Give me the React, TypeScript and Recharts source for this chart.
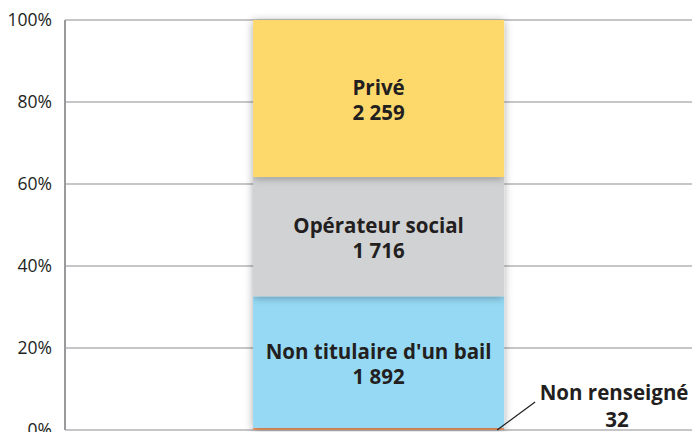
import React from 'react';
import { BarChart, Bar, XAxis, YAxis, CartesianGrid, LabelList } from 'recharts';

const categories = ['Logement'];
const seriesKeys = ['nr', 'ntb', 'os', 'prive'];
const seriesNames = ['Non renseigné', "Non titulaire d'un bail", 'Opérateur social', 'Privé'];
const seriesValues = [32, 1892, 1716, 2259];
const yTicks = [0, 0.2, 0.4, 0.6, 0.8, 1];

const COLORS = ['#F29D6B', '#95D9F4', '#D1D2D4', '#FDD96C'];
const TEXT = '#231F20';
const FONT = '"Open Sans", "Noto Sans", sans-serif';
const LABEL_SIZE = 20.5;

const data = categories.map((c) => {
  const row: Record<string, any> = { cat: c };
  seriesKeys.forEach((k, i) => {
    row[k] = seriesValues[i];
  });
  return row;
});

const fmt = (v: number) => String(v).replace(/\B(?=(\d{3})+(?!\d))/g, '\u00a0');

const makeInside = (name: string, value: number) => (props: any) => {
  const { x, y, width, height } = props;
  const cx = x + width / 2;
  const cy = y + height / 2;
  return (
    <g>
      <text x={cx} y={cy - 3.5} textAnchor="middle" fill={TEXT} fontFamily={FONT} fontWeight={700} fontSize={LABEL_SIZE}>
        {name}
      </text>
      <text x={cx} y={cy + 21.5} textAnchor="middle" fill={TEXT} fontFamily={FONT} fontWeight={700} fontSize={LABEL_SIZE}>
        {fmt(value)}
      </text>
    </g>
  );
};

const makeOutside = (name: string, value: number) => (props: any) => {
  const { x, y, width, height } = props;
  const bx = x + width - 7;
  const by = y + height;
  return (
    <g>
      <line x1={bx} y1={by} x2={bx + 38} y2={by - 28} stroke={TEXT} strokeWidth={1.2} />
      <text x={bx + 117} y={by - 30} textAnchor="middle" fill={TEXT} fontFamily={FONT} fontWeight={700} fontSize={LABEL_SIZE}>
        {name}
      </text>
      <text x={bx + 120} y={by - 3.5} textAnchor="middle" fill={TEXT} fontFamily={FONT} fontWeight={700} fontSize={LABEL_SIZE}>
        {fmt(value)}
      </text>
    </g>
  );
};

const ShadowRect = (props: any) => {
  const { x, y, width, height, fill } = props;
  return <rect x={x} y={y} width={width} height={height} fill={fill} filter="url(#barShadow)" />;
};

export default function App() {
  return (
    <div style={{ position: 'absolute', left: 0, top: 0, width: 692, height: 432, overflow: 'hidden', background: '#fff' }}>
      <BarChart
        width={692}
        height={460}
        data={data}
        stackOffset="expand"
        barCategoryGap="30%"
        margin={{ top: 20, right: 0, left: 0, bottom: 30 }}
      >
        <defs>
          <filter id="barShadow" x="-10%" y="-10%" width="120%" height="120%">
            <feDropShadow dx="0" dy="1" stdDeviation="4" floodColor="#000" floodOpacity="0.35" />
          </filter>
        </defs>
        <CartesianGrid vertical={false} stroke="#B3B3B6" strokeWidth={1.5} />
        <XAxis dataKey="cat" height={0} tick={false} tickLine={false} axisLine={{ stroke: '#77787B', strokeWidth: 2.5 }} />
        <YAxis
          width={65}
          domain={[0, 1]}
          ticks={yTicks}
          tickFormatter={(v: number) => `${Math.round(v * 100)}%`}
          tickLine={false}
          tickSize={0}
          tickMargin={13}
          axisLine={{ stroke: '#9A9A9D', strokeWidth: 2 }}
          tick={{ fill: TEXT, fontFamily: FONT, fontSize: 17.5 }}
        />
        {seriesKeys.map((k, i) => (
          <Bar key={k} dataKey={k} stackId="a" fill={COLORS[i]} isAnimationActive={false} shape={ShadowRect}>
            <LabelList
              dataKey={k}
              content={i === 0 ? makeOutside(seriesNames[i], seriesValues[i]) : makeInside(seriesNames[i], seriesValues[i])}
            />
          </Bar>
        ))}
      </BarChart>
    </div>
  );
}
